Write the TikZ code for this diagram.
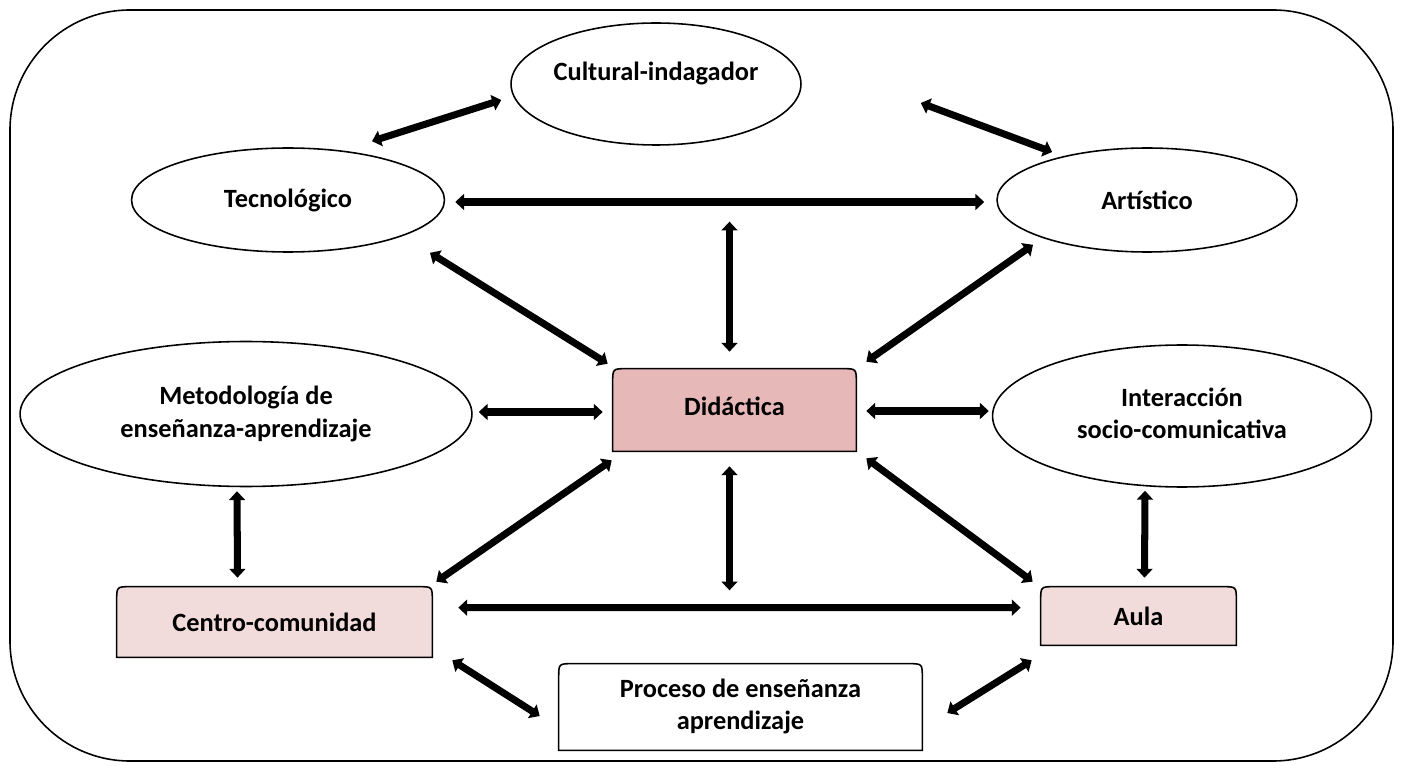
\documentclass[tikz,border=0pt]{standalone}
\usepackage{fontspec}
\setmainfont{Carlito}
\usetikzlibrary{shapes.geometric,arrows.meta,backgrounds}
\definecolor{didfill}{HTML}{E6B8B7}
\definecolor{boxfill}{HTML}{F2DCDB}
\begin{document}
\begin{tikzpicture}[
		x=0.02cm, y=-0.02cm,
		every node/.style={font=\fontsize{15}{18.5}\selectfont\bfseries, align=center},
		oval/.style={ellipse, draw, line width=0.9pt, inner sep=0pt},
		card/.style={rectangle, inner sep=0pt},
		dbl/.style={line width=4pt, {Triangle[width=9pt,length=5pt]}-{Triangle[width=9pt,length=5pt]}},
	]
		\useasboundingbox (0,0) rectangle (1402,766);
		\draw[line width=0.9pt, rounded corners=2.4cm] (10,10) rectangle (1393,761);
		
		% ellipses
		\node[oval, minimum width=5.8cm, minimum height=2.44cm] (cul) at (656,84) {\raisebox{15pt}{Cultural-indagador}};
		\node[oval, minimum width=6.26cm, minimum height=2.08cm] (tec) at (288,200) {Tecnológico};
		\node[oval, minimum width=6cm, minimum height=2.08cm] (art) at (1147,200) {Artístico};
		\node[oval, minimum width=9.04cm, minimum height=2.9cm] (met) at (246,414) {Metodología de\\enseñanza-aprendizaje};
		\node[oval, minimum width=7.58cm, minimum height=2.84cm] (int) at (1182,416) {\raisebox{3pt}{\begin{tabular}{@{}c@{}}Interacción\\socio-comunicativa\end{tabular}}};
		
		% boxes
		\node[card, minimum width=4.86cm, minimum height=1.64cm] (did) at (734.5,410) {\raisebox{4pt}{Didáctica}};
		\node[card, minimum width=6.3cm, minimum height=1.4cm] (cen) at (274.5,622) {Centro-comunidad};
		\node[card, minimum width=3.9cm, minimum height=1.16cm] (aula) at (1138.5,616) {Aula};
		\node[card, minimum width=7.26cm, minimum height=1.72cm] (pro) at (740.5,707) {\raisebox{5pt}{\begin{tabular}{@{}c@{}}Proceso de enseñanza\\aprendizaje\end{tabular}}};
		
		\begin{scope}[on background layer]
			\foreach \b/\c in {did/didfill, cen/boxfill, aula/boxfill, pro/white}
				\draw[fill=\c, line width=0.9pt] (\b.south west) -- ([yshift=-8pt]\b.north west) .. controls (\b.north west) .. ([xshift=8pt]\b.north west) -- ([xshift=-8pt]\b.north east) .. controls (\b.north east) .. ([yshift=-8pt]\b.north east) -- (\b.south east) -- cycle;
		\end{scope}
		
		% double arrows
		\foreach \u/\ux/\uy/\v/\vx/\vy in {
			tec.north/84/-6/cul.west/-9/16,
			cul.east/119/19/art.west/56/-48,
			tec.east/10/2/art.west/-12/2,
			tec.south/142/0/did.north west/-5/-5,
			did.north/-5/-147/did.north/-5/-17,
			art.south/-114/-8/did.north east/10/-7,
			met.east/6/-2/did.west/-10/2,
			did.east/10/1/int.west/-3/-5,
			met.south/-9/4/cen.north/-37/-9,
			did.south west/-1/9/cen.north east/4/-5,
			did.south/-5/15/did.south/-5/139,
			did.south east/10/7/aula.north west/-8/-5,
			int.south/-37/3/aula.north/6/-9,
			cen.north east/26/21/aula.north west/-20/21,
			cen.south east/20/3/pro.west/-19/9,
			aula.south west/-9/15/pro.east/25/6%
		}
			\draw[dbl] ([shift={(\ux,\uy)}]\u) -- ([shift={(\vx,\vy)}]\v);
	\end{tikzpicture}
\end{document}
